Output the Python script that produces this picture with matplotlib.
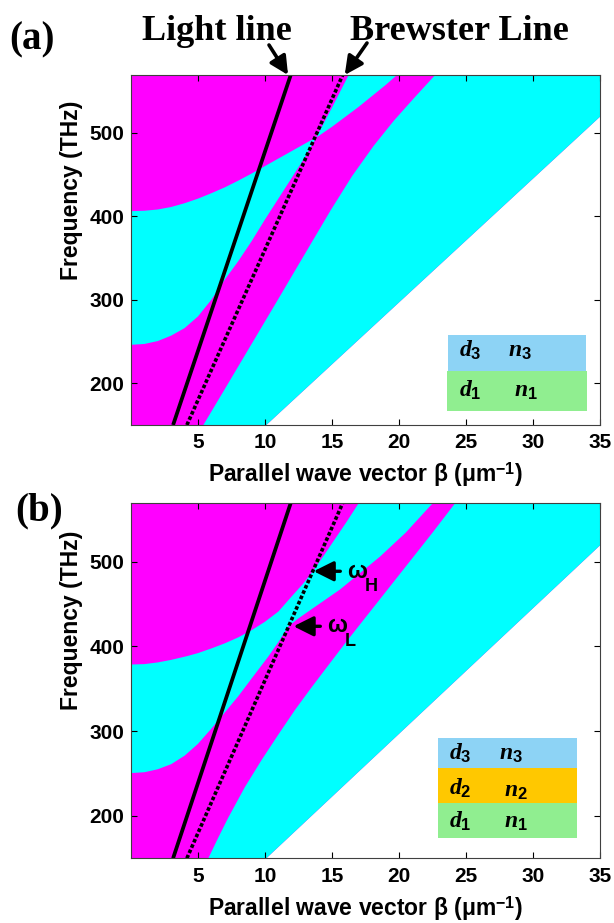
import matplotlib
matplotlib.use("Agg")
import matplotlib.pyplot as plt
from matplotlib.patches import Rectangle

# ---- data (beta in um^-1, frequency in THz) ----
x_ticks = [5, 10, 15, 20, 25, 30, 35]
y_ticks = [200, 300, 400, 500]
freq_lim = (150, 569)

light_beta = [3.14, 11.92]
light_freq = [150, 569]
brew_beta = [4.17, 15.8]
brew_freq = [150, 569]
white_beta = [10.1, 35.0]
white_freq = [150, 519]

# panel (a): two-layer stack
a_top_beta = [0, 1, 2, 3, 4, 5, 6, 7, 8, 9, 10, 11, 12, 13, 14, 15, 16, 17, 18, 19, 19.85, 21]
a_top_freq = [406, 406.5, 408, 411, 415.5, 421, 427.5, 434.5, 442.5, 451, 460, 469, 478,
              487, 496, 507, 519, 531, 544, 557, 569, 585]
a_low_beta = [0, 1, 2, 3, 4, 5, 6, 7, 8, 9, 10, 11, 12, 13, 13.75, 15, 16.24, 17]
a_low_freq = [246, 247, 250.5, 257, 266, 280, 300, 324, 346, 370, 396, 421, 446, 471,
              492, 530, 569, 592]
a_edge_beta = [5.4, 7, 9, 11, 12.1, 13.5, 14.9, 16.5, 18.1, 19.6, 21.1, 22.7, 23.5]
a_edge_freq = [150, 193, 247, 301, 331, 369, 407, 448, 484, 514, 541, 569, 582]

# panel (b): three-layer stack
b_top_beta = [0, 1, 2, 3, 4.2, 5, 6, 7, 8, 9, 10, 11, 12, 12.8, 13.5, 14.3, 15.2, 16.1,
              17.0, 17.5]
b_top_freq = [378.5, 379, 381, 384, 388.5, 392, 397.5, 403.5, 410.5, 419, 429, 441, 459,
              473, 487, 505, 526, 547, 569, 581]
b_low_beta = [0, 1, 2, 3, 4, 5, 6, 7, 8, 9, 10.25, 11, 11.75, 12.5, 13.5, 15.6, 18.6,
              20.5, 22.3, 23.5]
b_low_freq = [250.5, 251.5, 255, 261, 271, 285, 303, 322, 341, 362, 388, 405, 423.5, 433,
              444, 467, 506, 534, 565, 585]
b_edge_beta = [5.77, 6.5, 7.26, 8.5, 9.75, 11, 12.24, 13.4, 14.48, 16, 17.5, 19.2, 20.8,
               22.5, 24.2, 25]
b_edge_freq = [150, 174, 198, 234, 266, 296, 325, 350, 372.5, 404, 434, 468, 500, 534,
               569, 585]

MAG = "#ff00ff"
CYA = "#00ffff"

plt.rcParams["font.family"] = "Liberation Sans"
plt.rcParams["font.weight"] = "bold"
plt.rcParams["mathtext.fontset"] = "custom"
plt.rcParams["mathtext.rm"] = "Liberation Sans:bold"
plt.rcParams["mathtext.bf"] = "Liberation Sans:bold"
plt.rcParams["mathtext.it"] = "Liberation Serif:italic:bold"

W, H = 614, 923
fig = plt.figure(figsize=(W / 100, H / 100), dpi=100)


def fx(px):
    return px / W


def fy(py):
    return 1 - py / H


def panel(ax, top_b, top_f, low_b, low_f, edge_b, edge_f):
    # everything left of the substrate light line is magenta
    ax.fill([0] + white_beta + [36, 0], [freq_lim[0]] + white_freq + [600, 600],
            color=MAG, lw=0)
    # cyan band between the two curved edges
    ax.fill(low_b + top_b[::-1], low_f + top_f[::-1], color=CYA, lw=0)
    # cyan region right of the magenta band
    ax.fill(edge_b + [36] + white_beta[::-1], edge_f + [600] + white_freq[::-1],
            color=CYA, lw=0)
    ax.plot(light_beta, light_freq, color="k", lw=2.7, solid_capstyle="butt")
    ax.plot(brew_beta, brew_freq, color="k", lw=2.6, dashes=(1.0, 0.6))
    ax.set_xlim(0, 35)
    ax.set_ylim(*freq_lim)
    ax.set_xticks(x_ticks)
    ax.set_yticks(y_ticks)
    ax.tick_params(direction="in", top=True, right=True, length=4, width=0.8,
                   labelsize=15)
    ax.tick_params(axis="x", pad=6)
    ax.tick_params(axis="y", pad=5)
    for t in ax.get_xticklabels() + ax.get_yticklabels():
        t.set_fontweight("bold")
    for s in ax.spines.values():
        s.set_color("#404040")
        s.set_linewidth(0.8)
    ax.set_xlabel(r"Parallel wave vector β (μm$^{-1}$)", fontsize=16.5,
                  fontweight="bold")
    ax.xaxis.set_label_coords(0.5, -0.1)
    ax.set_ylabel("Frequency (THz)", fontsize=16.5, fontweight="bold")
    ax.yaxis.label.set_va("center")
    ax.yaxis.set_label_coords(-0.126, 0.67)


ax_a = fig.add_axes([fx(131), fy(425), 469 / W, 350 / H])
panel(ax_a, a_top_beta, a_top_freq, a_low_beta, a_low_freq, a_edge_beta, a_edge_freq)
ax_b = fig.add_axes([fx(131), fy(858.3), 469 / W, 355.3 / H])
panel(ax_b, b_top_beta, b_top_freq, b_low_beta, b_low_freq, b_edge_beta, b_edge_freq)

# panel letters and line names
serif = dict(family="Liberation Serif", weight="bold")
fig.text(fx(9), fy(40), "(a)", ha="left", va="center", size=28, **serif)
fig.text(fx(15), fy(511), "(b)", ha="left", va="center", size=28, **serif)
fig.text(fx(217), fy(32), "Light line", ha="center", va="center", size=26, **serif)
fig.text(fx(459), fy(32), "Brewster Line", ha="center", va="center", size=26, **serif)

big_arrow = dict(arrowstyle="-|>,head_length=1.0,head_width=0.5", lw=2.6,
                 color="k", shrinkA=0, shrinkB=0, mutation_scale=11)
ax_a.annotate("", xy=(light_beta[1] - 0.2, freq_lim[1]), xytext=(fx(269), fy(45)),
              textcoords="figure fraction", arrowprops=big_arrow, annotation_clip=False)
ax_a.annotate("", xy=(brew_beta[1] + 0.15, freq_lim[1]), xytext=(fx(367), fy(43)),
              textcoords="figure fraction", arrowprops=big_arrow, annotation_clip=False)

# omega_H / omega_L markers on the Brewster line in (b)
small_arrow = dict(arrowstyle="-|>,head_length=1.1,head_width=0.55", lw=2.4,
                   color="k", shrinkA=0, shrinkB=0, mutation_scale=11)
ax_b.annotate("", xy=(13.63, 488.5), xytext=(15.62, 488.5), arrowprops=small_arrow)
ax_b.annotate("", xy=(12.13, 423.6), xytext=(14.13, 423.6), arrowprops=small_arrow)
ax_b.text(16.15, 488, "ω", fontsize=17, ha="left", va="center", fontweight="bold")
ax_b.text(17.45, 480, "H", fontsize=13, ha="left", va="top", fontweight="bold")
ax_b.text(14.65, 424, "ω", fontsize=17, ha="left", va="center", fontweight="bold")
ax_b.text(15.95, 416, "L", fontsize=13, ha="left", va="top", fontweight="bold")


# layer stack sketches
def layer(x0, y0, x1, y1, color):
    fig.add_artist(Rectangle((fx(x0), fy(y1)), (x1 - x0) / W, (y1 - y0) / H,
                             transform=fig.transFigure, color=color, lw=0))


def label(px, py, s):
    fig.text(fx(px), fy(py), s, ha="left", va="baseline", size=17)


layer(447.7, 335, 586, 370.5, "#8dd3f5")
layer(447, 370.5, 586.7, 410.7, "#90ee90")
label(459, 357, r"$d_{\mathit{3}}$")
label(508, 357, r"$n_{\mathit{3}}$")
label(459, 397, r"$d_{\mathit{1}}$")
label(514, 397, r"$n_{\mathit{1}}$")

layer(438.3, 738.3, 576.7, 768, "#8dd3f5")
layer(438, 768, 577, 803, "#ffc800")
layer(438, 803, 577, 838.3, "#90ee90")
label(449, 760, r"$d_{\mathit{3}}$")
label(499, 760, r"$n_{\mathit{3}}$")
label(449, 795, r"$d_{\mathit{2}}$")
label(504, 797, r"$n_{\mathit{2}}$")
label(449, 828, r"$d_{\mathit{1}}$")
label(504, 828, r"$n_{\mathit{1}}$")

fig.savefig("out.png", dpi=100)
